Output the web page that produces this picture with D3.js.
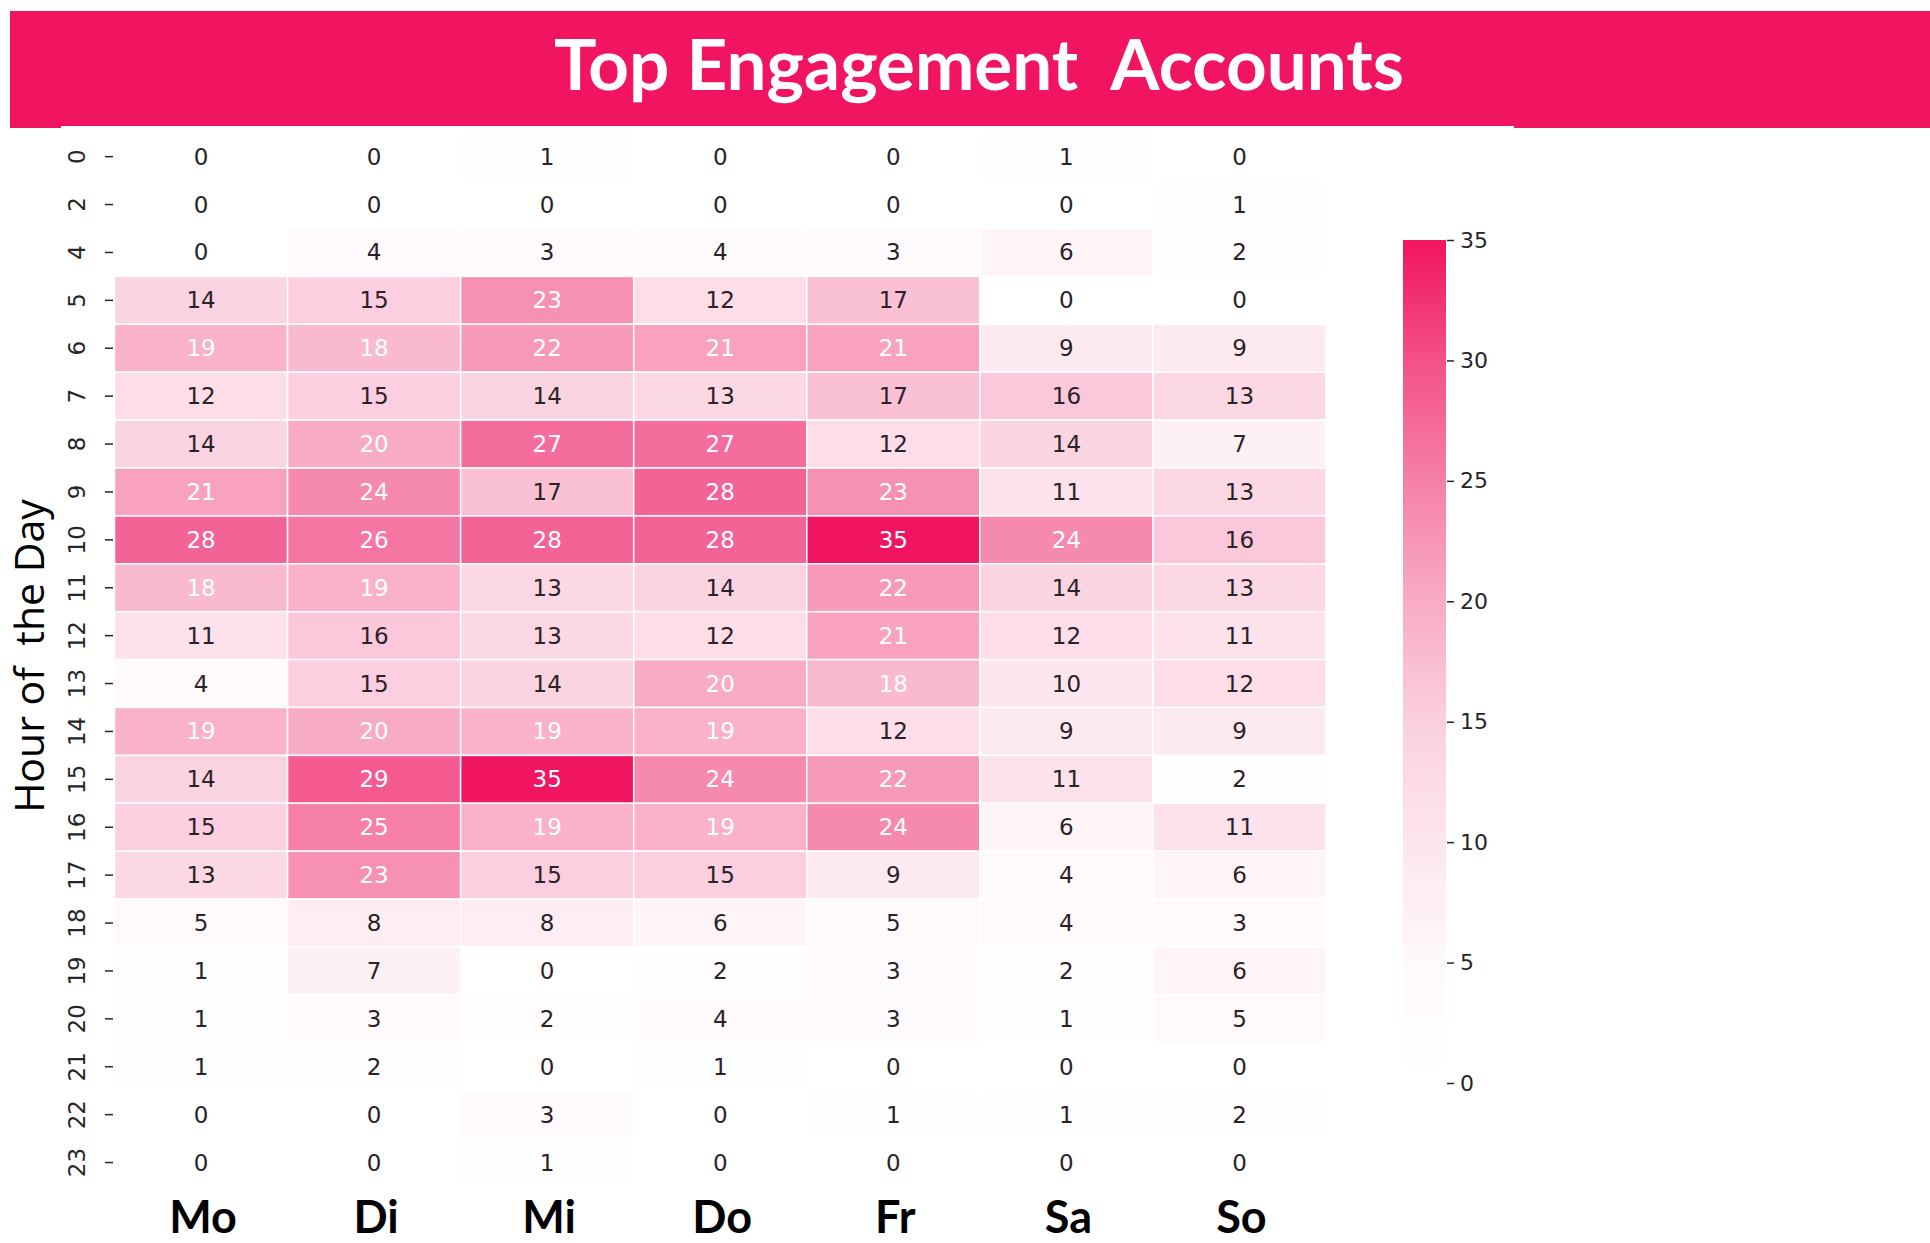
<!DOCTYPE html>
<html>
<head>
<meta charset="utf-8">
<script src="https://cdn.jsdelivr.net/npm/d3@7"></script>
<style>
  html, body { margin: 0; padding: 0; background: #ffffff; }
  svg { display: block; }
</style>
</head>
<body>
<svg id="chart" width="1930" height="1243"></svg>
<script>
// ---- data ----
const days = ["Mo", "Di", "Mi", "Do", "Fr", "Sa", "So"];
const hours = ["0", "2", "4", "5", "6", "7", "8", "9", "10", "11", "12", "13", "14", "15", "16", "17", "18", "19", "20", "21", "22", "23"];
const h0  = [0, 0, 1, 0, 0, 1, 0];
const h2  = [0, 0, 0, 0, 0, 0, 1];
const h4  = [0, 4, 3, 4, 3, 6, 2];
const h5  = [14, 15, 23, 12, 17, 0, 0];
const h6  = [19, 18, 22, 21, 21, 9, 9];
const h7  = [12, 15, 14, 13, 17, 16, 13];
const h8  = [14, 20, 27, 27, 12, 14, 7];
const h9  = [21, 24, 17, 28, 23, 11, 13];
const h10 = [28, 26, 28, 28, 35, 24, 16];
const h11 = [18, 19, 13, 14, 22, 14, 13];
const h12 = [11, 16, 13, 12, 21, 12, 11];
const h13 = [4, 15, 14, 20, 18, 10, 12];
const h14 = [19, 20, 19, 19, 12, 9, 9];
const h15 = [14, 29, 35, 24, 22, 11, 2];
const h16 = [15, 25, 19, 19, 24, 6, 11];
const h17 = [13, 23, 15, 15, 9, 4, 6];
const h18 = [5, 8, 8, 6, 5, 4, 3];
const h19 = [1, 7, 0, 2, 3, 2, 6];
const h20 = [1, 3, 2, 4, 3, 1, 5];
const h21 = [1, 2, 0, 1, 0, 0, 0];
const h22 = [0, 0, 3, 0, 1, 1, 2];
const h23 = [0, 0, 1, 0, 0, 0, 0];
const colorbarTicks = [0, 5, 10, 15, 20, 25, 30, 35];
const titleText = "Top Engagement  Accounts";
const yTitleText = "Hour of  the Day";

const rowsData = [h0, h2, h4, h5, h6, h7, h8, h9, h10, h11, h12, h13, h14, h15, h16, h17, h18, h19, h20, h21, h22, h23];

// ---- styling ----
const PINK = "#f11461";
const colorStops = ["#ffffff", "#fff9fb", "#fde6ee", "#fbcfdf", "#f8abc5", "#f680a8", "#f35089", "#f11461"];

const cells = [];
rowsData.forEach((row, i) => row.forEach((v, j) => cells.push({ hour: hours[i], day: days[j], value: v })));

const svg = d3.select("#chart");

// banner
svg.append("rect").attr("x", 10).attr("y", 11).attr("width", 1920).attr("height", 117).attr("fill", PINK);
svg.append("rect").attr("x", 61).attr("y", 126).attr("width", 1453).attr("height", 3).attr("fill", "#ffffff");
svg.append("text")
  .attr("x", 979).attr("y", 90)
  .attr("text-anchor", "middle")
  .attr("fill", "#ffffff")
  .style("font-family", "Lato, sans-serif")
  .style("font-weight", "700")
  .style("font-size", "71px")
  .style("white-space", "pre")
  .text(titleText);

// scales
const x = d3.scaleBand().domain(days).range([114.5, 1326]).padding(0);
const y = d3.scaleBand().domain(hours).range([132.7, 1186.5]).padding(0);
const vmax = d3.max(cells, d => d.value);
const color = d3.scaleLinear()
  .domain(colorStops.map((c, i) => i * vmax / (colorStops.length - 1)))
  .range(colorStops)
  .interpolate(d3.interpolateRgb)
  .clamp(true);

// cells
svg.append("g").selectAll("rect").data(cells).join("rect")
  .attr("x", d => x(d.day))
  .attr("y", d => y(d.hour))
  .attr("width", x.bandwidth())
  .attr("height", y.bandwidth())
  .attr("fill", d => color(d.value))
  .attr("stroke", "#ffffff")
  .attr("stroke-width", 1.5);

// annotations
svg.append("g").selectAll("text").data(cells).join("text")
  .attr("x", d => x(d.day) + x.bandwidth() / 2)
  .attr("y", d => y(d.hour) + y.bandwidth() / 2)
  .attr("text-anchor", "middle")
  .attr("dominant-baseline", "central")
  .attr("fill", d => d.value >= 18 ? "#ffffff" : "#2a2228")
  .style("font-family", "'DejaVu Sans', sans-serif")
  .style("font-size", "23px")
  .text(d => d.value);

// y axis
const yAxis = svg.append("g")
  .attr("transform", "translate(113,0)")
  .call(d3.axisLeft(y).tickSize(8).tickPadding(0));
yAxis.select(".domain").remove();
yAxis.selectAll(".tick line").attr("stroke", "#262626").attr("stroke-width", 1.5);
yAxis.selectAll(".tick text")
  .attr("x", null).attr("dy", null)
  .attr("transform", "translate(-36,0) rotate(-90)")
  .attr("text-anchor", "middle")
  .attr("dominant-baseline", "central")
  .attr("fill", "#262626")
  .style("font-family", "'DejaVu Sans', sans-serif")
  .style("font-size", "23px");

// y title
svg.append("text")
  .attr("transform", "translate(44,656) rotate(-90)")
  .attr("text-anchor", "middle")
  .attr("fill", "#000000")
  .style("font-family", "'Open Sans', sans-serif")
  .style("font-size", "41px")
  .style("white-space", "pre")
  .text(yTitleText);

// x labels
svg.append("g").selectAll("text").data(days).join("text")
  .attr("x", d => x(d) + x.bandwidth() / 2 + 2)
  .attr("y", 1233)
  .attr("text-anchor", "middle")
  .attr("fill", "#000000")
  .style("font-family", "Lato, sans-serif")
  .style("font-weight", "700")
  .style("font-size", "45px")
  .text(d => d);

// colorbar
const cbX = 1403, cbW = 43;
const cbScale = d3.scaleLinear().domain([0, vmax]).range([1083, 240]);
const defs = svg.append("defs");
const grad = defs.append("linearGradient").attr("id", "cbgrad")
  .attr("x1", 0).attr("y1", 1).attr("x2", 0).attr("y2", 0);
d3.range(0, 36).forEach(v => {
  grad.append("stop").attr("offset", v / vmax).attr("stop-color", color(v));
});
svg.append("rect")
  .attr("x", cbX).attr("y", cbScale(vmax))
  .attr("width", cbW).attr("height", cbScale(0) - cbScale(vmax))
  .attr("fill", "url(#cbgrad)");
const cbAxis = svg.append("g")
  .attr("transform", `translate(${cbX + cbW + 1},0)`)
  .call(d3.axisRight(cbScale).tickValues(colorbarTicks).tickSize(7).tickPadding(6));
cbAxis.select(".domain").remove();
cbAxis.selectAll(".tick line").attr("stroke", "#262626").attr("stroke-width", 1.5);
cbAxis.selectAll(".tick text")
  .attr("fill", "#262626")
  .style("font-family", "'DejaVu Sans', sans-serif")
  .style("font-size", "22px");
</script>
</body>
</html>
